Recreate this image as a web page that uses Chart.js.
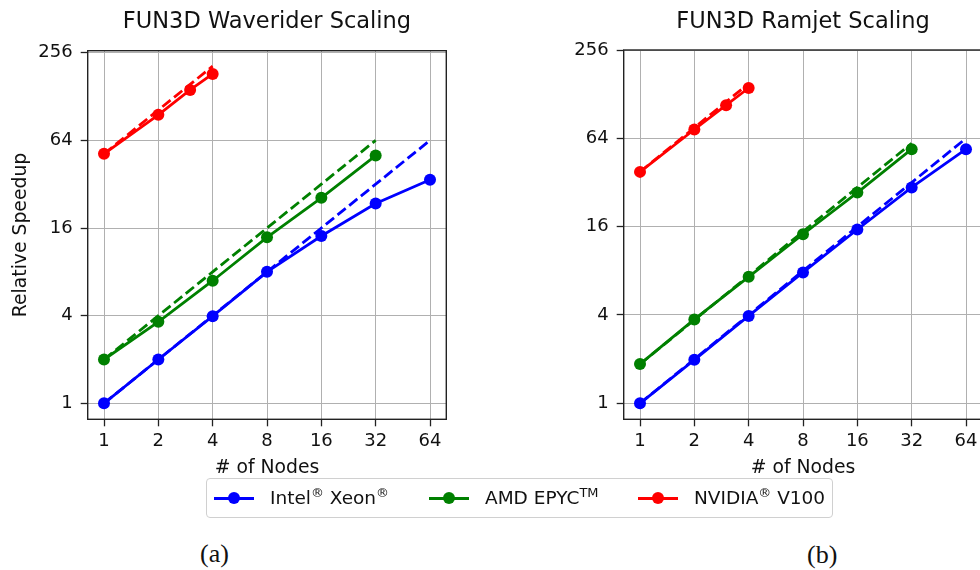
<!DOCTYPE html>
<html>
<head>
<meta charset="utf-8">
<script src="https://cdn.jsdelivr.net/npm/chart.js@4.4.1/dist/chart.umd.min.js"></script>
<style>
  html, body { margin: 0; padding: 0; background: #fff; }
  body { width: 980px; height: 570px; position: relative; overflow: hidden; font-family: "DejaVu Sans", sans-serif; }
  canvas { position: absolute; top: 0; }
  #left { left: 0; }
  #right { left: 540px; }
  #legend { position: absolute; left: 206px; top: 478px; width: 627px; height: 40px;
    border: 1px solid #d0d0d0; border-radius: 4px; box-sizing: border-box; }
  .leg-line { position: absolute; height: 3px; width: 40px; }
  .leg-dot { position: absolute; width: 12px; height: 12px; border-radius: 50%; }
  .leg-text { position: absolute; font-size: 18.5px; color: #111; white-space: nowrap; transform: translateY(-50%); line-height: 1; }
  .leg-text sup { font-size: 0.7em; vertical-align: 0.55em; line-height: 0; }
  .cap { position: absolute; font-family: "Liberation Serif", serif; font-size: 26px; color: #111; transform: translateY(-50%); }
</style>
</head>
<body>
<canvas id="left" width="470" height="480"></canvas>
<canvas id="right" width="460" height="480"></canvas>
<div id="legend"></div>
<div class="cap" style="left:200px; top:554px;">(a)</div>
<div class="cap" style="left:807px; top:555px;">(b)</div>
<script>
// --- data ---
const nodes = [1, 2, 4, 8, 16, 32, 64];
const amdNodes = [1, 2, 4, 8, 16, 32];
const gpuNodes = [1, 2, 3, 4];
const xTicks = [1, 2, 4, 8, 16, 32, 64];
const yTicks = [1, 4, 16, 64, 256];

// FUN3D Waverider
const wavIntel = [1, 2, 3.97, 8, 14.1, 23.6, 34.3];
const wavIntelIdeal = [1, 2, 4, 8, 16, 32, 64];
const wavAmd = [2, 3.63, 6.95, 13.8, 25.8, 50.3];
const wavAmdIdeal = [2, 4, 8, 16, 32, 64];
const wavNvidia = [51.7, 95.8, 142, 183];
const wavNvidiaIdeal = [51.7, 103.4, 155.1, 206.8];

// FUN3D Ramjet
const ramIntel = [1, 1.98, 3.94, 7.8, 15.3, 29.6, 54];
const ramIntelIdeal = [1, 2, 4, 8, 16, 32, 64];
const ramAmd = [1.85, 3.73, 7.28, 14.2, 27.3, 54];
const ramAmdIdeal = [1.85, 3.7, 7.4, 14.8, 29.6, 59.2];
const ramNvidia = [37.8, 73.5, 107.6, 141];
const ramNvidiaIdeal = [37.8, 75.6, 113.4, 151.2];

const seriesLabels = ['Intel<sup>®</sup> Xeon<sup>®</sup>', 'AMD EPYC<sup>TM</sup>', 'NVIDIA<sup>®</sup> V100'];
const seriesColors = ['#0000ff', '#008000', '#ff0000'];

Chart.defaults.font.family = '"DejaVu Sans", sans-serif';
Chart.defaults.color = '#111';

const pts = (xs, ys) => ys.map((y, i) => ({ x: xs[i], y }));

const solid = (xs, ys, color) => ({
  data: pts(xs, ys), borderColor: color, backgroundColor: color, borderWidth: 2.8,
  pointRadius: 6, pointHoverRadius: 6, pointBorderWidth: 0, pointBackgroundColor: color
});
const dashed = (xs, ys, color) => ({
  data: pts(xs, ys), borderColor: color, borderWidth: 2.8, borderDash: [10.5, 4.5],
  pointRadius: 0, pointHoverRadius: 0
});

// draws the closed frame around the plot area like matplotlib spines
const frame = {
  id: 'frame',
  afterDatasetsDraw(chart) {
    const { ctx, chartArea: a } = chart;
    ctx.save();
    ctx.strokeStyle = '#222';
    ctx.lineWidth = 1.4;
    ctx.strokeRect(a.left, a.top, a.right - a.left, a.bottom - a.top);
    ctx.restore();
  }
};

function makeChart(id, title, sets, opts) {
  const ctx = document.getElementById(id).getContext('2d');
  return new Chart(ctx, {
    type: 'line',
    data: {
      datasets: [
        dashed(nodes, sets.intelIdeal, seriesColors[0]),
        solid(nodes, sets.intel, seriesColors[0]),
        dashed(amdNodes, sets.amdIdeal, seriesColors[1]),
        solid(amdNodes, sets.amd, seriesColors[1]),
        dashed(gpuNodes, sets.nvidiaIdeal, seriesColors[2]),
        solid(gpuNodes, sets.nvidia, seriesColors[2])
      ].reverse()
    },
    options: {
      responsive: false,
      animation: false,
      devicePixelRatio: 1,
      layout: { padding: { left: opts.padLeft, right: opts.padRight, top: 0, bottom: 0 } },
      plugins: {
        legend: { display: false },
        tooltip: { enabled: false },
        title: {
          display: true, text: title, fullSize: false, color: '#111',
          font: { size: 22.5, weight: 'normal', lineHeight: 1.2 },
          padding: { top: 8.3, bottom: opts.titleBottom }
        }
      },
      scales: {
        x: {
          type: 'logarithmic', min: Math.pow(2, -0.3), max: Math.pow(2, 6.3),
          afterBuildTicks: s => { s.ticks = xTicks.map(v => ({ value: v })); },
          afterFit: s => { s.height = 60.7; },
          ticks: { callback: v => String(v), autoSkip: false, maxRotation: 0, padding: 4, color: '#111', font: { size: 18 } },
          grid: { color: '#b0b0b0', lineWidth: 1, tickLength: 7, tickColor: '#222', tickWidth: 1.3 },
          border: { display: false },
          title: { display: true, text: '# of Nodes', color: '#111', font: { size: 18.8 }, padding: { top: 0, bottom: 1 } }
        },
        y: {
          type: 'logarithmic', min: Math.pow(2, opts.yMinExp), max: Math.pow(2, opts.yMaxExp),
          afterBuildTicks: s => { s.ticks = yTicks.map(v => ({ value: v })); },
          afterFit: s => { s.width = opts.yWidth; },
          ticks: { callback: v => String(v), autoSkip: false, padding: 8, color: '#111', font: { size: 18 } },
          grid: { color: '#b0b0b0', lineWidth: 1, tickLength: 7, tickColor: '#222', tickWidth: 1.3 },
          border: { display: false },
          title: { display: opts.yTitle, text: 'Relative Speedup', color: '#111', font: { size: 18.8 }, padding: { top: 3.5, bottom: 0 } }
        }
      }
    },
    plugins: [frame]
  });
}

makeChart('left', 'FUN3D Waverider Scaling', {
  intel: wavIntel, intelIdeal: wavIntelIdeal,
  amd: wavAmd, amdIdeal: wavAmdIdeal,
  nvidia: wavNvidia, nvidiaIdeal: wavNvidiaIdeal
}, { padLeft: 6, padRight: 23.7, yWidth: 81.7, yTitle: true, yMinExp: -0.365, yMaxExp: 8.046, titleBottom: 15.4 });

makeChart('right', 'FUN3D Ramjet Scaling', {
  intel: ramIntel, intelIdeal: ramIntelIdeal,
  amd: ramAmd, amdIdeal: ramAmdIdeal,
  nvidia: ramNvidia, nvidiaIdeal: ramNvidiaIdeal
}, { padLeft: 0, padRight: 17.7, yWidth: 83.7, yTitle: false, yMinExp: -0.362, yMaxExp: 8, titleBottom: 14.7 });

// shared legend below both panels
const legend = document.getElementById('legend');
const lineStarts = [7, 222, 431];
seriesLabels.forEach((label, i) => {
  const x = lineStarts[i];
  const line = document.createElement('div');
  line.className = 'leg-line';
  line.style.cssText = `left:${x}px; top:${19 - 1.5}px; background:${seriesColors[i]};`;
  const dot = document.createElement('div');
  dot.className = 'leg-dot';
  dot.style.cssText = `left:${x + 14}px; top:${19 - 6}px; background:${seriesColors[i]};`;
  const text = document.createElement('div');
  text.className = 'leg-text';
  text.style.cssText = `left:${x + 56}px; top:19px;`;
  text.innerHTML = label;
  legend.append(line, dot, text);
});
</script>
</body>
</html>
